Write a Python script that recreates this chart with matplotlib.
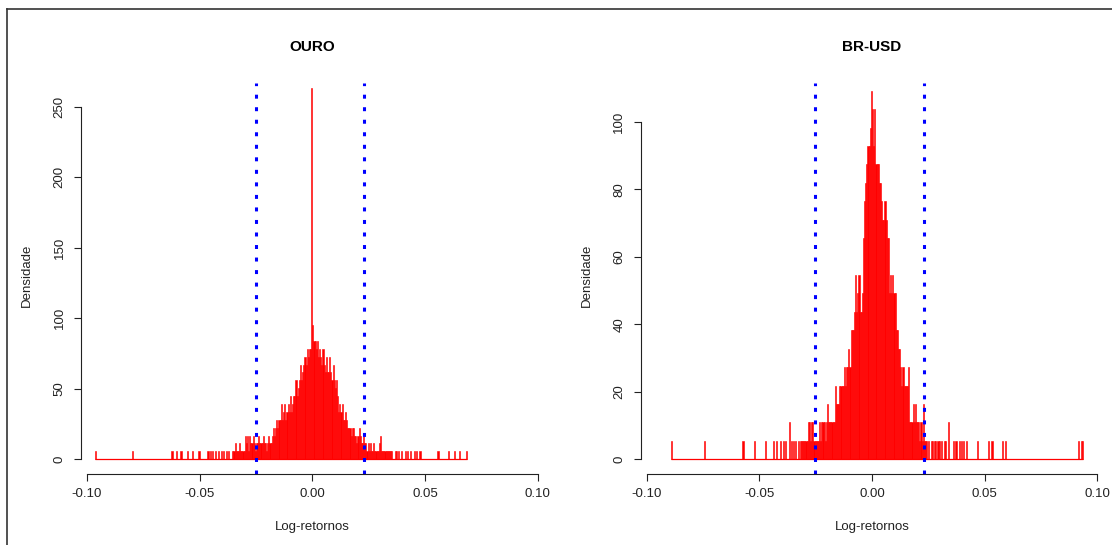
import numpy as np
import matplotlib
matplotlib.use("Agg")
import matplotlib.pyplot as plt
from matplotlib.lines import Line2D

plt.rcParams['font.family'] = ['Liberation Sans', 'DejaVu Sans']

# largura de cada classe dos histogramas
largura = 0.0005

# ---- OURO ----
ouro_unidade = 5.6          # densidade de uma observação numa classe
ouro_inicio = -0.0355       # borda esquerda da primeira classe central
ouro_centro = [1, 1, 2, 1, 1, 1, 2, 1, 1, 1, 1,
               3, 2, 3, 1, 3,
               2, 2, 3, 2, 1, 2, 2, 3, 2, 2, 2, 3, 2, 2, 1, 2, 3, 2, 2,
               3, 4, 3, 4, 5, 4,
               5, 5, 7, 5, 6, 7, 5,
               6, 7, 6, 8, 6, 7,
               8, 8, 10, 8, 9,
               10, 12, 10, 11,
               12, 13, 12, 14, 13,
               14, 14, 47, 17, 15,
               15, 14, 15,
               13, 14, 13, 12, 14,
               12, 11, 13,
               11, 11, 13, 11, 10, 12,
               10, 9, 10, 8,
               6, 7, 6, 7,
               5, 5, 6, 5, 4,
               4, 4, 3, 4, 4,
               3, 3, 2, 3, 4, 3,
               2, 2, 3, 2, 2, 1, 2,
               1, 2, 1, 1, 2, 1,
               1, 1, 1, 2, 3, 1, 1, 1, 1, 1, 1, 1, 1, 1, 1, 0, 0]
ouro_caudas = [-0.096, -0.0797, -0.0624, -0.0601, -0.0582, -0.0552, -0.0535,
               -0.0501, -0.0461, -0.0451, -0.0441, -0.0428, -0.0415, -0.0402,
               -0.039, -0.0381, -0.0371,
               0.0368, 0.0373, 0.0384, 0.0399, 0.041, 0.0424, 0.0436, 0.0451,
               0.0461, 0.048, 0.0557, 0.0601, 0.063, 0.065, 0.0683]
ouro_var = [-0.0251, 0.0229]
ouro_yticks = [0, 50, 100, 150, 200, 250]
ouro_ylim = (-10.3, 267)

# ---- BR-USD ----
brusd_unidade = 5.46
brusd_inicio = -0.0315
brusd_centro = [1, 1, 1, 1, 1, 1, 2, 2, 1, 2, 2, 1, 1,
                1, 1, 1,
                2, 1, 2, 2, 2, 1, 2, 3, 2, 2, 2, 2, 2, 2,
                4, 3, 3, 3, 4,
                4, 4, 4, 5, 4,
                5, 5, 6, 5,
                7, 7, 7,
                8, 10, 8, 9, 10, 8, 8, 9,
                12, 14, 15, 16,
                17, 17, 18, 20, 19,
                17, 19, 16,
                16, 16, 15,
                15, 14,
                13, 13, 14, 13,
                12, 12,
                9, 10, 9, 10, 9, 9,
                7, 7,
                6, 6, 5,
                4, 5, 4, 4, 4, 4, 5,
                2, 2, 2, 3, 2, 3,
                2, 2, 2, 1, 2, 1, 3, 1]
brusd_caudas = [-0.0886, -0.0745, -0.0575, -0.0524, -0.0472, -0.0437, -0.0422,
                -0.0407, -0.0392, -0.0384, -0.0369, -0.0367, -0.0358, -0.0348,
                -0.0336, -0.0329, -0.0319,
                0.0238, 0.0243, 0.0254, 0.0261, 0.0269, 0.0276, 0.0283, 0.0291,
                0.0298, 0.0305, 0.032, 0.0327, 0.0335, 0.0339, 0.0364, 0.0372,
                0.0386, 0.0398, 0.0406, 0.0416, 0.0468, 0.0519, 0.0534, 0.0578,
                0.0593, 0.0917, 0.0925, 0.0932]
brusd_var = [-0.0251, 0.0229]
brusd_yticks = [0, 20, 40, 60, 80, 100]
brusd_ylim = (-4.3, 111.5)

xticks = [-0.10, -0.05, 0.00, 0.05, 0.10]
xtick_labels = ["-0.10", "-0.05", "0.00", "0.05", "0.10"]


def classes(inicio, centro, caudas):
    n = len(centro)
    k_caudas = np.floor((np.array(caudas) - inicio) / largura).astype(int)
    k_min = min(0, k_caudas.min())
    k_max = max(n - 1, k_caudas.max())
    cont = np.zeros(k_max - k_min + 1)
    cont[-k_min:-k_min + n] += centro
    np.add.at(cont, k_caudas - k_min, 1)
    esq = inicio + largura * np.arange(k_min, k_max + 1)
    return esq, cont


W, H = 1112, 545
fig = plt.figure(figsize=(W / 100, H / 100), dpi=100)

paineis = [
    ("OURO", ouro_inicio, ouro_centro, ouro_caudas, ouro_unidade, ouro_var, ouro_yticks, ouro_ylim, 81.0),
    ("BR-USD", brusd_inicio, brusd_centro, brusd_caudas, brusd_unidade, brusd_var, brusd_yticks, brusd_ylim, 640.7),
]

topo, base = 83.0, 473.7
larg_px = 462.6

for titulo, inicio, centro, caudas, unidade, var, yt, ylim, x0 in paineis:
    ax = fig.add_axes([x0 / W, (H - base) / H, larg_px / W, (base - topo) / H])
    esq, cont = classes(inicio, centro, caudas)
    ax.bar(esq, cont * unidade, width=largura, align='edge',
           color='red', edgecolor='red', linewidth=0.4)
    ax.hlines(0, esq[0], esq[-1] + largura, color='red', lw=0.9)
    for v in var:
        ax.axvline(v, color='blue', lw=2.2, linestyle=(0, (1.3, 2.8)))
    ax.set_xlim(-0.1026, 0.1026)
    ax.set_ylim(*ylim)
    for s in ['top', 'right']:
        ax.spines[s].set_visible(False)
    ax.spines['left'].set_bounds(yt[0], yt[-1])
    ax.spines['bottom'].set_bounds(xticks[0], xticks[-1])
    for s in ['left', 'bottom']:
        ax.spines[s].set_linewidth(0.8)
        ax.spines[s].set_color('#222222')
    ax.set_xticks(xticks)
    ax.set_xticklabels(xtick_labels)
    ax.set_yticks(yt)
    ax.set_yticklabels([str(t) for t in yt], rotation=90, va='center')
    ax.tick_params(direction='out', length=5, width=0.8, color='#222222',
                   labelsize=9.5, labelcolor='#222222')
    ax.tick_params(axis='x', pad=5)
    ax.tick_params(axis='y', pad=6)
    ax.patch.set_visible(False)

    cx = (x0 + larg_px / 2) / W
    fig.text(cx, 1 - 47 / H, titulo, ha='center', va='center',
             fontsize=11, fontweight='bold', color='black')
    fig.text(cx, 1 - 527 / H, "Log-retornos", ha='center', va='center',
             fontsize=9.5, color='#222222')
    fig.text((x0 - 54) / W, 1 - 275 / H, "Densidade", ha='center', va='center',
             rotation=90, fontsize=9.5, color='#222222')

# moldura da captura de tela
fig.add_artist(Line2D([7 / W, 1], [1 - 9 / H, 1 - 9 / H], color='#333333', lw=1.2))
fig.add_artist(Line2D([7 / W, 7 / W], [0, 1 - 9 / H], color='#333333', lw=1.2))

fig.savefig("out.png", dpi=100)
